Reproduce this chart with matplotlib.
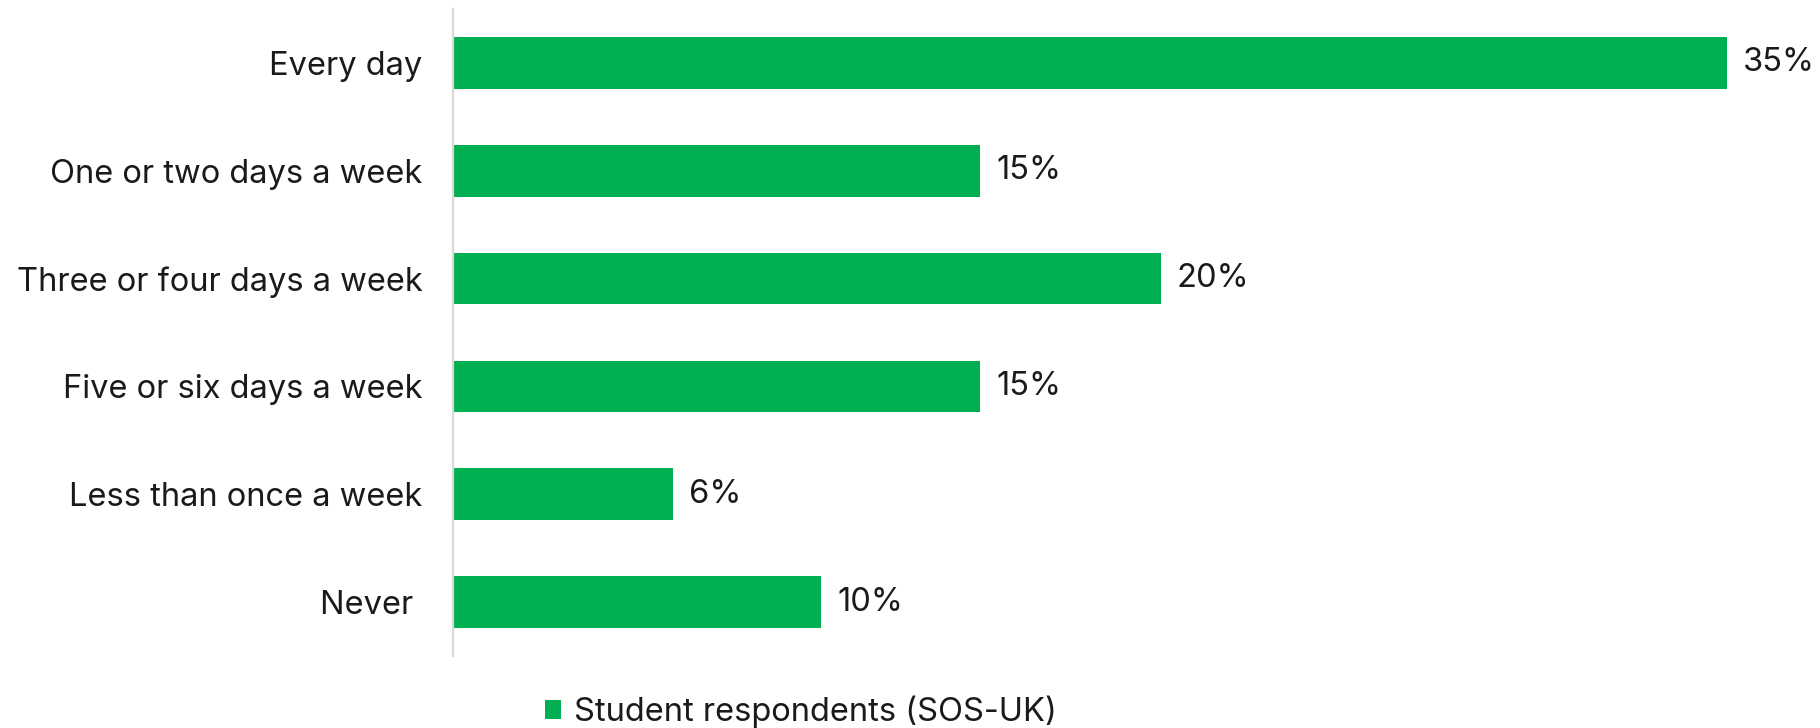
import matplotlib
matplotlib.use("Agg")
import matplotlib.pyplot as plt
from matplotlib.patches import Patch

categories = [
    "Every day",
    "One or two days a week",
    "Three or four days a week",
    "Five or six days a week",
    "Less than once a week",
    "Never ",
]
values = [35.3, 14.6, 19.6, 14.6, 6.1, 10.2]
series_name = "Student respondents (SOS-UK)"

GREEN = "#00B050"
TEXT = "#1a1a1a"

plt.rcParams["font.family"] = ["Inter", "DejaVu Sans"]

W, H = 1820, 728
fig = plt.figure(figsize=(W / 100, H / 100), dpi=100)
left, right, top, bottom = 453, 1800, 9, 656
ax = fig.add_axes([left / W, 1 - bottom / H, (right - left) / W, (bottom - top) / H])

y = list(range(len(categories)))
bars = ax.barh(y, values, height=0.48, color=GREEN, edgecolor="none")
ax.set_ylim(len(categories) - 0.5, -0.5)
ax.set_xlim(0, (right - left) / 36.1)

FS = 23.5
ax.set_yticks(y)
ax.set_yticklabels(categories, fontsize=FS, color=TEXT)
ax.tick_params(axis="y", length=0, pad=22)
ax.set_xticks([])

for s in ["top", "right", "bottom"]:
    ax.spines[s].set_visible(False)
ax.spines["left"].set_color("#d9d9d9")
ax.spines["left"].set_linewidth(1.6)

for b, v in zip(bars, values):
    ax.annotate(f"{v:.0f}%", xy=(b.get_width(), b.get_y() + b.get_height() / 2),
                xytext=(16, 0), textcoords="offset pixels",
                va="center", ha="left", fontsize=FS, color=TEXT)

fig.legend(handles=[Patch(facecolor=GREEN, edgecolor="none", label=series_name)],
           loc="center", bbox_to_anchor=(801 / W, 1 - 712 / H), frameon=False,
           fontsize=FS, handlelength=0.5, handleheight=0.5, handletextpad=0.4,
           labelcolor=TEXT)

fig.savefig("out.png", dpi=100, facecolor="white")
